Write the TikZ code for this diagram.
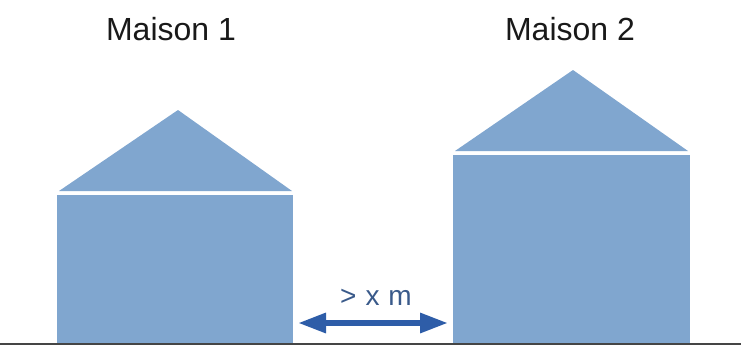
\documentclass[tikz,border=0pt]{standalone}
\usepackage{fontspec}
\setmainfont{Liberation Sans}
\usetikzlibrary{arrows.meta}
\definecolor{housefill}{HTML}{80A6CF}
\definecolor{arrowblue}{HTML}{2E5DA8}
\definecolor{labelblue}{HTML}{3A5A8A}
\definecolor{groundgray}{HTML}{454545}
\begin{document}
\begin{tikzpicture}[x=1pt,y=-1pt,
  housepart/.style={fill=housefill,draw=none},
  title/.style={font=\fontsize{32}{36}\selectfont,text=black!90,inner sep=0pt,anchor=base},
  gaplabel/.style={font=\fontsize{28}{32}\selectfont,text=labelblue,inner sep=0pt,anchor=base},
  gaparrow/.style={draw=arrowblue,line width=6pt,{Triangle[length=28pt,width=19pt]}-{Triangle[length=28pt,width=19pt]}},
  ground/.style={draw=groundgray,line width=2pt}]
\useasboundingbox (0,0) rectangle (741,345);
% house 1
\fill[housepart] (59,191) -- (178,110) -- (292,191) -- cycle;
\fill[housepart] (57,195) rectangle (293,345);
% house 2
\fill[housepart] (455,151) -- (573,70) -- (688,151) -- cycle;
\fill[housepart] (453,155) rectangle (690,345);
% ground
\coordinate (gl) at (0,344);
\coordinate (gr) at (741,344);
\draw[ground] (gl) -- (gr);
% titles
\node[title] (t1) at (171,41) {Maison 1};
\node[title] (t2) at (570,41) {Maison 2};
% gap
\coordinate (al) at (298,323);
\coordinate (ar) at (448,323);
\draw[gaparrow] (al) -- (ar);
\node[gaplabel] (lbl) at (376,305) {>\hspace{9pt}x\hspace{9pt}m};
\end{tikzpicture}
\end{document}
